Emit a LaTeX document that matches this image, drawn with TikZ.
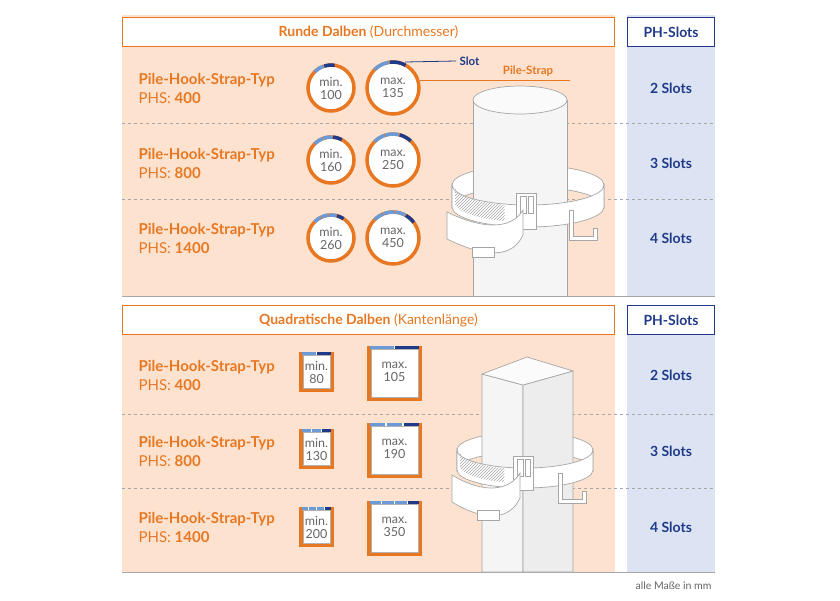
\documentclass[tikz,border=0pt]{standalone}
\usepackage{fontspec}
\setmainfont{Lato}
\usetikzlibrary{patterns}
\definecolor{org}{HTML}{E87722}
\definecolor{peach}{HTML}{FDE3CF}
\definecolor{bcol}{HTML}{DCE3F2}
\definecolor{dblue}{HTML}{1F3A8A}
\definecolor{lblue}{HTML}{6A9BD8}
\newcommand\slotring[5]{% x y r n segangle
  \fill[white] (#1,#2) circle[radius=#3];
  \draw[org,line width=3.5] (#1,#2) circle[radius=#3];
  \foreach \k in {1,...,#4}{
    \pgfmathsetmacro\sa{-135+(\k-1)*#5}
    \pgfmathsetmacro\ea{\sa+#5-2}
    \ifnum\k=#4 \def\cc{dblue}\else\def\cc{lblue}\fi
    \draw[\cc,line width=3.5] ([shift={(\sa:#3)}]#1,#2) arc[start angle=\sa,end angle=\ea,radius=#3];
  }}
\newcommand\slotbox[5]{% x1 y1 x2 y2 n
  \fill[white] (#1,#2) rectangle (#3,#4);
  \draw[org,line width=3.5] (#1,#2) -- (#1,#4) -- (#3,#4) -- (#3,#2);
  \draw[gray!60,line width=0.6] (#1+2,#2+3) rectangle (#3-2,#4-2);
  \foreach \k in {1,...,#5}{
    \pgfmathsetmacro\xa{#1+(\k-1)*(#3-#1)/#5+0.7}
    \pgfmathsetmacro\xb{#1+\k*(#3-#1)/#5-0.7}
    \ifnum\k=#5 \def\cc{dblue}\else\def\cc{lblue}\fi
    \draw[\cc,line width=3] (\xa,#2+1.5) -- (\xb,#2+1.5);
  }}
\tikzset{
  ttl/.style={text=org,font=\fontsize{15}{15}\selectfont\bfseries,anchor=west},
  phs/.style={text=org,font=\fontsize{15}{15}\selectfont,anchor=west},
  slots/.style={text=dblue,font=\fontsize{14}{14}\selectfont\bfseries},
  num/.style={text=gray!80!black,font=\fontsize{12.5}{13}\selectfont,align=center},
  hdr/.style={text=org,font=\fontsize{14}{14}\selectfont},
  sep line/.style={gray!70,dashed,line width=0.7},
  pole/.style={fill=gray!8,draw=gray!70,line width=0.7},
  strap/.style={fill=white,draw=gray!70,line width=0.7}
}
\newcommand\band[5]{% cx cy rx ry h
  \draw[strap] (#1-#3,#2) arc[start angle=180,end angle=360,x radius=#3,y radius=#4] -- ++(0,#5) arc[start angle=0,end angle=-180,x radius=#3,y radius=#4] -- cycle;
}
\newcommand\frontband[5]{%
  \draw[strap] (#1+#3,#2) arc[start angle=0,end angle=180,x radius=#3,y radius=#4] -- ++(0,#5) arc[start angle=180,end angle=0,x radius=#3,y radius=#4] -- cycle;
  \fill[pattern=north east lines,pattern color=gray!70] (#1-#3+3,#2+3) arc[start angle=175,end angle=110,x radius=#3,y radius=#4] -- ++(0,#5-6) arc[start angle=110,end angle=175,x radius=#3,y radius=#4] -- cycle;
  \draw[strap] (#1-12,#2+#4-12) rectangle (#1+8,#2+#4+#5+2);
  \draw[gray!70] (#1-8,#2+#4-9) rectangle (#1-2,#2+#4+8) (#1,#2+#4-9) rectangle (#1+5,#2+#4+8);
  \draw[strap] (#1-#3-5,#2+#5+5) .. controls (#1-40,#2+#5+25) and (#1-15,#2+#5+20) .. (#1-5,#2+#4+5) -- ++(0,25) .. controls (#1-15,#2+#5+50) and (#1-40,#2+#5+52) .. (#1-#3-5,#2+#5+32) -- cycle;
  \draw[strap] (#1-#3+20,#2+#5+40) rectangle ++(22,10);
  \draw[strap] (#1+#3-35,#2+#4+5) -- ++(0,30) -- ++(28,0) -- ++(0,-12) -- ++(-4,0) -- ++(0,8) -- ++(-20,0) -- ++(0,-26) -- cycle;
}
\begin{document}
\begin{tikzpicture}[x=1pt,y=-1pt]
\useasboundingbox (0,0) rectangle (840,600);
\fill[white] (0,0) rectangle (840,600);
\fill[peach] (122,15) rectangle (615,296);
\fill[bcol] (627,15) rectangle (715,296);
\fill[peach] (122,305) rectangle (615,572);
\fill[bcol] (627,305) rectangle (715,572);
\foreach \y in {123,199,414,488} \draw[sep line] (122,\y) -- (715,\y);
\draw[gray!70,line width=0.8] (122,296) -- (715,296);
\draw[gray!70,line width=0.8] (122,572) -- (715,572);
\node[hdr,draw=org,line width=1.4,fill=white,minimum width=492,minimum height=29,inner sep=0] (h1) at (368.5,32) {\textbf{Runde Dalben} (Durchmesser)};
\node[slots,draw=dblue,line width=1.4,fill=white,minimum width=87,minimum height=29,inner sep=0] (s1) at (671,32) {PH-Slots};
\node[hdr,draw=org,line width=1.4,fill=white,minimum width=492,minimum height=29,inner sep=0] (h2) at (368.5,320) {\textbf{Quadratische Dalben} (Kantenlänge)};
\node[slots,draw=dblue,line width=1.4,fill=white,minimum width=87,minimum height=29,inner sep=0] (s2) at (671,320) {PH-Slots};
\band{528}{185}{76}{20}{22}
\fill[gray!8] (473,100) rectangle (567,296);
\draw[gray!70,line width=0.7] (473,100) -- (473,296) (567,100) -- (567,296);
\draw[pole,fill=gray!4] (520,100) ellipse[x radius=47,y radius=14];
\frontband{528}{185}{76}{20}{22}
\band{525}{450}{68}{18}{20}
\draw[pole] (482,374) -- (523,385) -- (523,572) -- (482,572) -- cycle;
\draw[pole,fill=gray!14] (523,385) -- (573,371) -- (573,572) -- (523,572) -- cycle;
\draw[pole,fill=gray!3] (482,374) -- (527,357) -- (573,371) -- (523,385) -- cycle;
\frontband{525}{450}{68}{18}{20}
\coordinate (sl) at (405,62);
\node[text=dblue,font=\fontsize{11.5}{11}\selectfont\bfseries,anchor=west] (slot) at (456,61) {Slot};
\draw[dblue,line width=0.8] (sl) -- (slot.west);
\node[text=org,font=\fontsize{11.5}{11}\selectfont\bfseries] (ps) at (528,71) {Pile-Strap};
\coordinate (psa) at (420,80); \coordinate (psb) at (570,80);
\draw[org,line width=0.8] (psa) -- (psb);
\foreach \ya/\p/\s in {80/400/2,155/800/3,230/1400/4,367/400/2,443/800/3,519/1400/4}{
  \node[ttl] at (135,\ya) {Pile-Hook-Strap-Typ};
  \node[phs] at (135,\ya+18) {PHS: \textbf{\p}};
  \node[slots] at (671,\ya+8) {\s\ Slots};
}
\slotring{331}{88}{23}{2}{28}\node[num] at (331,88) {min.\\100};
\slotring{393}{88}{26}{2}{38}\node[num] at (393,88) {max.\\135};
\slotring{331}{160}{23}{3}{25}\node[num] at (331,160) {min.\\160};
\slotring{393}{160}{26}{3}{30}\node[num] at (393,160) {max.\\250};
\slotring{331}{238}{23}{4}{20}\node[num] at (331,238) {min.\\260};
\slotring{393}{238}{26}{4}{25}\node[num] at (393,238) {max.\\450};
\slotbox{301}{352}{332}{390}{2}\node[num] at (316.5,372) {min.\\80};
\slotbox{369}{346}{420}{399}{2}\node[num] at (394.5,372) {max.\\105};
\slotbox{301}{429}{332}{467}{3}\node[num] at (316.5,449) {min.\\130};
\slotbox{369}{423}{420}{476}{3}\node[num] at (394.5,449) {max.\\190};
\slotbox{301}{507}{332}{545}{4}\node[num] at (316.5,527) {min.\\200};
\slotbox{369}{501}{420}{554}{4}\node[num] at (394.5,527) {max.\\350};
\node[text=gray!80!black,font=\fontsize{10.5}{10}\selectfont,anchor=east] at (715,586) {alle Maße in mm};
\end{tikzpicture}
\end{document}
